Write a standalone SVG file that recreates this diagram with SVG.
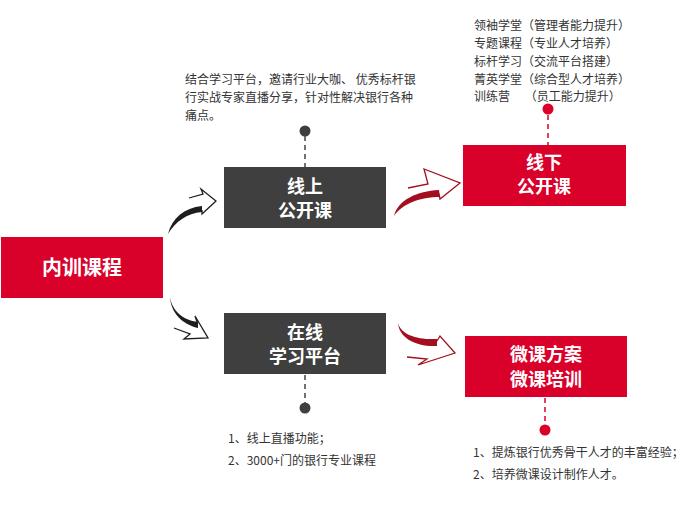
<svg xmlns="http://www.w3.org/2000/svg" width="692" height="505" viewBox="0 0 692 505">
<style>
.red{fill:#d9002a}
.dark{fill:#3f3f3f}
.title{font-family:"Noto Sans CJK SC","Noto Sans",sans-serif;font-weight:bold;fill:#fff;text-anchor:middle}
.t{font-family:"Noto Sans CJK SC","Noto Sans",sans-serif;font-size:12px;fill:#333}
.dd{stroke:#444;stroke-width:1.5;stroke-dasharray:5,4;fill:none}
.dr{stroke:#d9002a;stroke-width:1.5;stroke-dasharray:5,4;fill:none}
.hk{fill:none;stroke:#1e1e1e;stroke-width:1.3;stroke-linejoin:miter}
.hr{fill:none;stroke:#a30f1f;stroke-width:1.3;stroke-linejoin:miter}
</style>
<rect width="692" height="505" fill="#fff"/>
<g id="connectors">
<line class="dd" x1="305" y1="136" x2="305" y2="167"/>
<circle cx="305" cy="131" r="5.5" fill="#3f3f3f"/>
<line class="dd" x1="305" y1="375" x2="305" y2="403"/>
<circle cx="305" cy="408" r="5.5" fill="#3f3f3f"/>
<line class="dr" x1="548" y1="115" x2="548" y2="145"/>
<circle cx="548" cy="109" r="5.5" fill="#d9002a"/>
<line class="dr" x1="545" y1="398" x2="545" y2="425"/>
<circle cx="545" cy="430" r="5.5" fill="#d9002a"/>
<path d="M168,234 C172,218 184,208 202,206 L202,212 C187,213 175,222 168,234 Z" fill="#1e1e1e"/>
<polyline class="hk" points="189,198 203,194 201,189 216,201 202,214 202,210"/>
<path d="M170,297 C172,311 183,320 198,322 L198,328 C182,324 171,313 170,297 Z" fill="#1e1e1e"/>
<polyline class="hk" points="197,322 195,316 208,338 184,339 190,334 174,328"/>
<path d="M394,216 C398,200 417,191 439,190 L440,197 C420,197 402,204 394,216 Z" fill="#a30f1f"/>
<polyline class="hr" points="408,188 428,184 424,169 460,183 440,199 439,194"/>
<path d="M398,323 C401,335 418,340 437,339 L437,346 C416,347 399,338 398,323 Z" fill="#a30f1f"/>
<polyline class="hr" points="437,341 440,336 455,353 418,365 427,359 407,357"/>
</g>
<g id="node-neixun">
<rect class="red" x="1" y="237" width="162" height="61"/>
<text class="title" x="82" y="275" font-size="20">内训课程</text>
</g>
<g id="node-xianshang">
<rect class="dark" x="224" y="167" width="162" height="61"/>
<text class="title" x="305" y="193" font-size="18">线上</text>
<text class="title" x="305" y="217" font-size="18">公开课</text>
</g>
<g id="node-zaixian">
<rect class="dark" x="224" y="313" width="162" height="61"/>
<text class="title" x="305" y="339" font-size="18">在线</text>
<text class="title" x="305" y="363" font-size="18">学习平台</text>
</g>
<g id="node-xianxia">
<rect class="red" x="463" y="145" width="163" height="61"/>
<text class="title" x="544" y="169" font-size="18">线下</text>
<text class="title" x="544" y="193" font-size="18">公开课</text>
</g>
<g id="node-weike">
<rect class="red" x="465" y="336" width="162" height="61"/>
<text class="title" x="546" y="361" font-size="18">微课方案</text>
<text class="title" x="546" y="386" font-size="18">微课培训</text>
</g>
<g id="text-top-left">
<text class="t" x="185" y="84" font-size="12.5">结合学习平台，邀请行业大咖、 优秀标杆银</text>
<text class="t" x="185" y="102" font-size="12.5">行实战专家直播分享，针对性解决银行各种</text>
<text class="t" x="185" y="120" font-size="12.5">痛点。</text>
</g>
<g id="text-top-right">
<text class="t" x="474" y="30">领袖学堂（管理者能力提升）</text>
<text class="t" x="474" y="48">专题课程（专业人才培养）</text>
<text class="t" x="474" y="66">标杆学习（交流平台搭建）</text>
<text class="t" x="474" y="84">菁英学堂（综合型人才培养）</text>
<text class="t" x="474" y="101">训练营　  （员工能力提升）</text>
</g>
<g id="text-bottom-left">
<text class="t" x="228" y="443">1、线上直播功能；</text>
<text class="t" x="228" y="465">2、3000+门的银行专业课程</text>
</g>
<g id="text-bottom-right">
<text class="t" x="473" y="457">1、提炼银行优秀骨干人才的丰富经验；</text>
<text class="t" x="473" y="479">2、培养微课设计制作人才。</text>
</g>
</svg>
